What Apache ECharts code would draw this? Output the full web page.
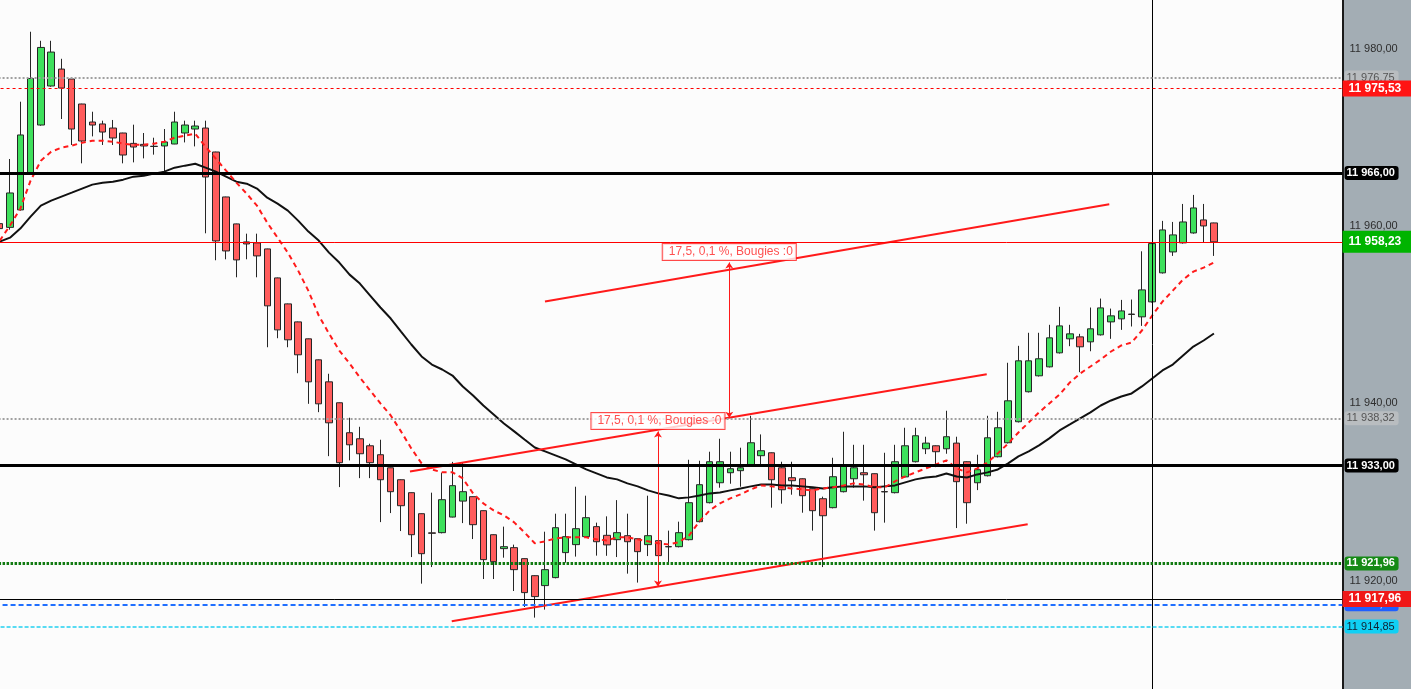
<!DOCTYPE html>
<html><head><meta charset="utf-8">
<script src="https://cdn.jsdelivr.net/npm/echarts@6/dist/echarts.min.js"></script>
<style>html,body{margin:0;padding:0;background:#a3adb4;overflow:hidden}#c{width:1411px;height:689px}</style>
</head><body><div id="c"></div>
<script>
// ---- candle data (one entry per bar, oldest first) ----
const opens = [11960.28,11959.86,11961.83,11965.88,11971.40,11975.80,11977.71,11976.59,11973.77,11971.74,11971.52,11971.06,11970.50,11969.33,11969.22,11969.01,11969.04,11969.26,11970.50,11970.95,11971.06,11968.36,11963.29,11960.25,11958.22,11958.11,11957.43,11954.16,11951.23,11949.20,11947.29,11944.92,11942.44,11940.08,11936.70,11936.02,11935.23,11934.22,11932.75,11931.40,11929.94,11927.57,11925.41,11925.43,11927.19,11928.99,11929.49,11927.91,11925.20,11923.63,11923.74,11922.50,11920.58,11919.46,11920.36,11923.18,11924.08,11924.98,11926.11,11925.13,11924.64,11925.09,11924.75,11924.08,11924.53,11923.86,11923.85,11924.64,11926.67,11928.81,11931.06,11932.19,11932.42,11932.98,11934.11,11934.44,11932.75,11931.63,11931.51,11930.39,11929.26,11928.25,11930.05,11931.51,11932.19,11932.08,11930.06,11929.94,11931.72,11933.43,11934.89,11935.23,11934.89,11935.53,11933.43,11931.06,11931.85,11933.99,11935.57,11937.94,11941.32,11943.12,11944.13,11945.71,11947.29,11947.51,11946.95,11947.74,11949.20,11949.54,11950.08,11949.77,11951.46,11954.73,11957.09,11958.11,11959.23,11960.70,11960.36];
const closes = [11959.72,11963.74,11970.28,11976.65,11980.15,11979.63,11975.57,11970.95,11969.60,11971.40,11970.61,11969.94,11968.02,11968.92,11969.04,11968.98,11969.49,11971.74,11971.40,11971.29,11965.54,11958.33,11957.20,11956.19,11957.99,11956.64,11951.01,11948.30,11947.18,11945.49,11942.44,11939.96,11937.82,11933.32,11935.34,11934.33,11933.32,11931.40,11930.05,11928.47,11925.20,11923.06,11925.36,11929.15,11930.73,11930.05,11926.33,11922.39,11922.16,11923.85,11921.26,11918.67,11918.22,11921.26,11925.99,11924.98,11925.88,11927.12,11924.41,11924.05,11925.43,11924.41,11923.29,11925.09,11922.84,11923.83,11925.43,11928.81,11930.84,11933.43,11933.43,11932.64,11932.75,11935.57,11934.67,11931.40,11930.27,11931.29,11929.60,11927.91,11927.34,11931.74,11933.09,11932.75,11931.96,11927.68,11930.03,11933.43,11935.23,11936.36,11935.53,11934.56,11936.25,11931.18,11928.81,11932.53,11936.13,11937.26,11940.30,11944.81,11944.81,11945.04,11947.40,11948.75,11947.85,11946.39,11948.42,11950.78,11949.88,11950.44,11950.04,11952.81,11958.03,11959.57,11959.01,11960.47,11962.05,11960.02,11958.23];
const lows = [11959.27,11959.60,11961.75,11965.80,11971.32,11975.72,11972.08,11969.15,11967.08,11970.12,11969.15,11969.15,11967.08,11967.19,11967.64,11968.06,11966.06,11969.24,11969.44,11968.99,11959.19,11956.15,11956.26,11954.23,11956.26,11954.23,11946.34,11947.36,11946.34,11943.41,11939.96,11939.02,11934.06,11930.57,11933.58,11931.58,11931.58,11926.62,11927.64,11925.61,11922.68,11919.68,11921.55,11925.35,11927.15,11926.51,11924.71,11920.20,11920.20,11922.61,11918.85,11917.05,11915.85,11916.75,11920.28,11922.05,11922.73,11924.90,11922.84,11922.82,11922.68,11920.81,11919.80,11922.79,11922.76,11922.05,11923.77,11924.56,11926.59,11928.73,11930.50,11930.95,11930.61,11932.90,11932.98,11928.25,11928.70,11929.71,11927.68,11925.66,11921.55,11928.17,11929.97,11930.50,11929.04,11925.66,11926.56,11929.86,11931.66,11933.35,11934.29,11932.82,11934.33,11925.95,11926.44,11930.23,11931.77,11933.92,11935.49,11937.86,11941.24,11943.04,11944.06,11945.63,11946.46,11943.53,11945.89,11947.66,11947.29,11948.30,11948.68,11948.75,11951.38,11954.65,11956.64,11958.03,11959.15,11958.11,11956.64];
const highs = [11960.62,11967.57,11974.03,11981.92,11980.90,11980.90,11978.87,11976.62,11973.80,11972.90,11971.89,11971.97,11970.53,11971.44,11970.50,11969.97,11970.95,11972.90,11971.89,11971.89,11971.89,11968.39,11963.32,11960.28,11959.15,11959.15,11957.46,11954.20,11951.27,11949.24,11947.32,11944.96,11943.35,11940.11,11938.39,11937.37,11935.46,11935.91,11932.78,11931.44,11929.97,11927.60,11929.94,11932.19,11933.41,11933.39,11929.52,11927.94,11925.24,11926.11,11924.08,11922.53,11920.62,11925.54,11927.57,11927.57,11930.61,11929.60,11926.56,11927.27,11929.10,11927.57,11924.79,11929.60,11924.56,11925.66,11926.67,11933.65,11933.54,11934.56,11936.02,11934.56,11935.01,11938.61,11936.51,11934.48,11933.43,11933.43,11931.55,11930.42,11929.49,11933.88,11936.81,11935.34,11935.34,11932.11,11934.44,11935.34,11937.26,11937.26,11936.25,11935.27,11939.18,11936.25,11933.47,11934.22,11938.61,11939.06,11944.59,11946.50,11947.97,11947.97,11948.87,11950.90,11948.87,11947.85,11950.82,11951.83,11950.70,11951.68,11951.72,11957.16,11958.10,11960.59,11960.47,11962.50,11963.52,11962.50,11960.39];
// ---- moving averages ----
const maFast = [11958.37,11960.06,11961.97,11965.13,11967.38,11968.39,11968.85,11969.07,11969.41,11969.63,11969.63,11969.52,11969.30,11969.18,11969.18,11969.30,11969.52,11969.97,11970.20,11970.42,11968.96,11967.61,11966.25,11964.90,11963.66,11962.31,11960.39,11958.70,11957.01,11954.99,11952.70,11949.92,11947.89,11945.97,11944.51,11942.93,11941.46,11940.00,11938.65,11936.85,11934.93,11933.24,11932.56,11932.23,11932.23,11931.55,11929.86,11928.73,11927.94,11927.38,11926.59,11925.46,11924.23,11924.45,11924.79,11924.90,11924.90,11924.90,11924.68,11924.56,11924.90,11924.90,11924.68,11924.45,11924.23,11924.11,11924.34,11925.13,11926.70,11927.94,11928.73,11929.30,11929.75,11930.31,11930.76,11930.65,11930.54,11930.42,11930.31,11930.20,11930.42,11930.54,11930.76,11930.99,11930.87,11930.54,11930.54,11931.21,11931.77,11932.23,11932.68,11933.13,11933.58,11932.68,11932.23,11932.68,11933.35,11934.37,11935.49,11936.73,11937.86,11938.99,11940.00,11941.01,11942.37,11943.38,11944.17,11944.96,11945.86,11946.54,11946.87,11948.23,11949.92,11951.49,11952.73,11953.97,11954.87,11955.32,11955.89];
const maSlow = [11958.25,11958.70,11959.72,11961.07,11962.31,11962.87,11963.32,11963.77,11964.23,11964.68,11964.90,11965.01,11965.24,11965.58,11965.69,11965.92,11966.14,11966.59,11966.82,11967.04,11966.59,11966.14,11965.58,11965.01,11964.79,11964.23,11963.21,11962.54,11961.75,11960.62,11959.38,11958.37,11957.01,11955.89,11954.53,11953.52,11952.17,11950.82,11949.58,11948.11,11946.65,11945.30,11944.39,11943.83,11943.15,11941.92,11940.90,11939.77,11938.76,11937.75,11936.85,11935.94,11935.04,11934.59,11934.14,11933.69,11933.13,11932.56,11932.11,11931.66,11931.44,11930.99,11930.65,11930.20,11929.86,11929.63,11929.30,11929.41,11929.63,11929.86,11929.97,11930.20,11930.42,11930.65,11930.87,11930.87,11930.76,11930.76,11930.65,11930.54,11930.42,11930.54,11930.65,11930.65,11930.65,11930.54,11930.65,11930.76,11931.10,11931.44,11931.66,11931.77,11932.11,11931.77,11931.66,11932.00,11932.23,11932.56,11933.24,11934.03,11934.59,11935.27,11936.06,11936.96,11937.63,11938.31,11938.99,11939.77,11940.34,11940.79,11941.13,11941.92,11942.82,11943.72,11944.39,11945.41,11946.42,11947.10,11947.89];
// ---- horizontal price levels ----
const levelPrices = [11976.75, 11975.53, 11966.00, 11958.23, 11938.32, 11933.00, 11921.96, 11917.35, 11917.96, 11914.85];
// ---- channel trend lines (bar index, price) ----
const trendStartIdx = [52.99, 39.87, 43.93];
const trendStartPrice = [11951.49, 11932.34, 11915.44];
const trendEndIdx = [107.83, 95.92, 99.90];
const trendEndPrice = [11962.46, 11943.30, 11926.37];
// ---- measure annotations ----
const measureIdx = [63.97, 70.9];
const measureLow = [11919.35, 11938.40];
const measureHigh = [11936.85, 11955.90];
const measureText = ['17,5, 0,1 %, Bougies :0', '17,5, 0,1 %, Bougies :0'];
// ---- price scale range and cursor ----
const priceMin = 11907.80;
const priceMax = 11985.50;
const cursorIdx = 112;
const slotCount = 131;
const categories = Array.from({length: slotCount}, (_, i) => String(i));

function fmtPrice(v){
  const parts = Number(v).toFixed(2).split('.');
  return parts[0].replace(/\B(?=(\d{3})+(?!\d))/g, ' ') + ',' + parts[1];
}

const small = (bg, fg, bold) => ({show:true, position:'end', distance:2, color:fg, fontWeight: bold?'bold':'normal', fontSize:11, lineHeight:12, backgroundColor:bg, borderRadius:3, padding:[1,2,1,2], width:50, align:'left'});
const full = (bg, padV) => ({show:true, position:'end', distance:0, color:'#fff', fontWeight:'bold', fontSize:12, lineHeight:14, backgroundColor:bg, padding:[padV,6,padV,6], width:57, align:'left'});
const levelStyles = [
  {line:{color:'#a0a0a0', width:2, type:[2,2]}, label: small('#b9bdc0', '#555', false)},
  {line:{color:'#ff0000', width:1, type:[3,3]}, label: full('#ff1414', 1)},
  {line:{color:'#000', width:3, type:'solid'}, label: small('#000', '#fff', true)},
  {line:{color:'#ff0000', width:1, type:'solid'}, label: full('#00b400', 4)},
  {line:{color:'#a0a0a0', width:2, type:[2,2]}, label: small('#b9bdc0', '#555', false)},
  {line:{color:'#000', width:3, type:'solid'}, label: small('#000', '#fff', true)},
  {line:{color:'#107a10', width:3, type:[2.5,1.5]}, label: small('#158a15', '#fff', true)},
  {line:{color:'#1f6fff', width:2, type:[5,3]}, label: small('#1f5fff', '#fff', false)},
  {line:{color:'#000', width:1, type:'solid'}, label: full('#f01818', 1)},
  {line:{color:'#20d0f0', width:1.5, type:[4,2]}, label: small('#10d0f4', '#123', false)}
];

const markData = levelPrices.map((p, i) => ({
  yAxis: p,
  lineStyle: levelStyles[i].line,
  label: Object.assign({formatter: fmtPrice(p)}, levelStyles[i].label)
}));

const candleData = opens.map((o, i) => [o, closes[i], lows[i], highs[i]]);

const chart = echarts.init(document.getElementById('c'), null, {renderer:'canvas'});
chart.setOption({
  animation: false,
  backgroundColor: '#a3adb4',
  textStyle: {fontFamily: '"Liberation Sans", Arial, sans-serif'},
  grid: {left: -5.435, right: 68.44, top: 0, bottom: 0, show: true, backgroundColor: '#fcfcfc', borderWidth: 0, borderColor: 'rgba(0,0,0,0)', containLabel: false, outerBoundsMode: 'none'},
  xAxis: [
    {type:'category', data: categories, boundaryGap: true, show: false},
    {type:'value', min: -0.5, max: slotCount - 0.5, show: false, axisLine: {onZero: false}}
  ],
  yAxis: {
    type:'value', position:'right', min: priceMin, max: priceMax, minInterval: 20, maxInterval: 20, scale: true,
    axisLine: {show: true, onZero: false, lineStyle: {color: '#1a1a1a', width: 2}},
    axisTick: {show: false}, splitLine: {show: false},
    axisLabel: {color: '#2e2e2e', fontSize: 11, margin: 7, showMinLabel: false, showMaxLabel: false, formatter: fmtPrice}
  },
  series: [
    {type:'candlestick', xAxisIndex:0, data: candleData, barWidth: 7, z: 2,
     itemStyle: {color:'#3ee05c', color0:'#ff5c5c', borderColor:'#262626', borderColor0:'#262626', borderColorDoji:'#262626', borderWidth:1}},
    {type:'line', xAxisIndex:0, data: maSlow, showSymbol:false, symbol:'none', z:3,
     lineStyle:{color:'#111', width:2},
     markLine:{silent:true, symbol:['none','none'], animation:false, precision:2, data: markData}},
    {type:'line', xAxisIndex:0, data: maFast, showSymbol:false, symbol:'none', z:3,
     lineStyle:{color:'#ff1a1a', width:2, type:[5,4]}},
    {type:'lines', coordinateSystem:'cartesian2d', xAxisIndex:1, yAxisIndex:0, z:4, symbol:['none','none'],
     lineStyle:{color:'#000', width:1, opacity:1},
     data: [{coords: [[cursorIdx, priceMin], [cursorIdx, priceMax]]}]},
    {type:'lines', coordinateSystem:'cartesian2d', xAxisIndex:1, yAxisIndex:0, z:4, symbol:['none','none'],
     lineStyle:{color:'#ff1a1a', width:2, opacity:1},
     data: trendStartIdx.map((s, i) => ({coords: [[s, trendStartPrice[i]], [trendEndIdx[i], trendEndPrice[i]]]}))},
    {type:'lines', coordinateSystem:'cartesian2d', xAxisIndex:1, yAxisIndex:0, z:4, symbol:['arrow','arrow'], symbolSize:6,
     lineStyle:{color:'#ff1a1a', width:1, opacity:1},
     data: measureIdx.map((m, i) => ({coords: [[m, measureLow[i]], [m, measureHigh[i]]]}))},
    {type:'scatter', xAxisIndex:1, yAxisIndex:0, z:5, symbolSize:1, itemStyle:{color:'rgba(0,0,0,0)'},
     data: measureIdx.map((m, i) => [m, measureHigh[i]]),
     label:{show:true, position:'top', distance:2, formatter: p => measureText[p.dataIndex],
       color:'#ff2424', fontSize:12, lineHeight:14, backgroundColor:'#ffffff', borderColor:'#ff1a1a', borderWidth:1, padding:[1,3,1,6]}}
  ]
});
</script></body></html>
